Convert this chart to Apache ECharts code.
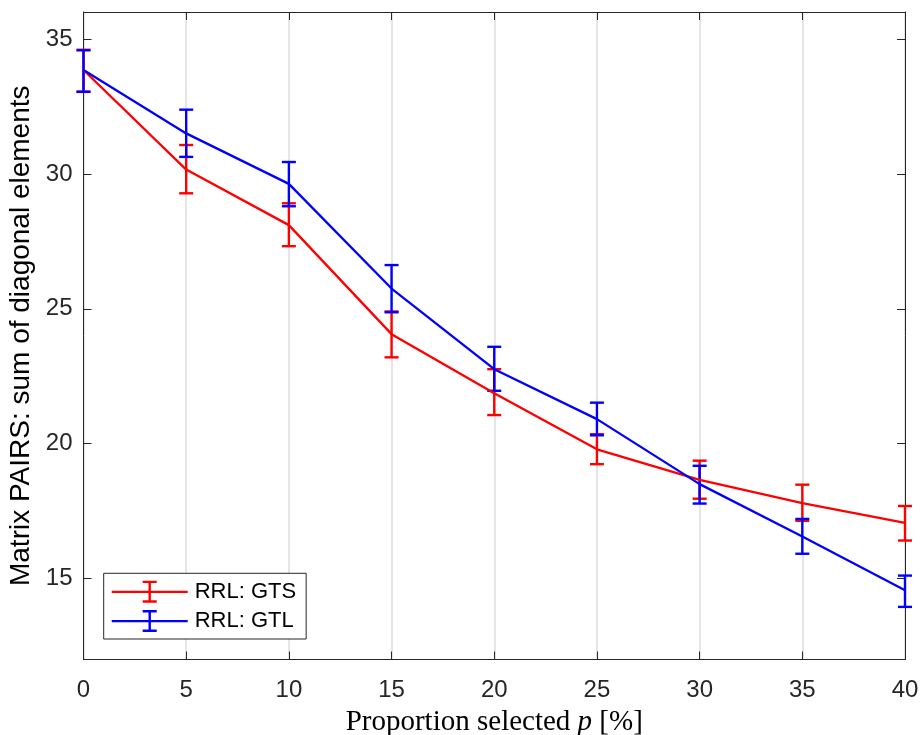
<!DOCTYPE html>
<html>
<head>
<meta charset="utf-8">
<script src="https://cdn.jsdelivr.net/npm/echarts@6/dist/echarts.min.js"></script>
<style>
html,body{margin:0;padding:0;background:#fff;}
#chart{width:922px;height:735px;}
</style>
</head>
<body>
<div id="chart"></div>
<script>
// ---- data ----
var xValues = [0, 5, 10, 15, 20, 25, 30, 35, 40];
var gtsMean = [33.85, 30.16, 28.10, 24.06, 21.87, 19.79, 18.66, 17.80, 17.06];
var gtsLow  = [33.05, 29.28, 27.32, 23.20, 21.06, 19.24, 17.96, 17.14, 16.41];
var gtsHigh = [34.60, 31.07, 28.91, 24.90, 22.76, 20.35, 19.37, 18.48, 17.69];
var gtlMean = [33.85, 31.50, 29.63, 25.75, 22.76, 20.91, 18.50, 16.56, 14.57];
var gtlLow  = [33.04, 30.63, 28.80, 24.87, 21.96, 20.31, 17.78, 15.92, 13.95];
var gtlHigh = [34.58, 32.38, 30.44, 26.62, 23.59, 21.52, 19.18, 17.21, 15.11];
var seriesNames = ['RRL: GTS', 'RRL: GTL'];
var xTicks = [0, 5, 10, 15, 20, 25, 30, 35, 40];
var yTicks = [15, 20, 25, 30, 35];

var RED = '#ff0000', BLUE = '#0000ff', AXIS = '#262626';

function pairs(xs, ys) { return xs.map(function (x, i) { return [x, ys[i]]; }); }
function triples(xs, lo, hi) { return xs.map(function (x, i) { return [x, lo[i], hi[i]]; }); }

function errRender(color) {
  return function (params, api) {
    var x = api.value(0);
    var p1 = api.coord([x, api.value(1)]);
    var p2 = api.coord([x, api.value(2)]);
    var hw = 7;
    var st = { stroke: color, lineWidth: 2.4 };
    return {
      type: 'group',
      children: [
        { type: 'line', shape: { x1: p1[0], y1: p1[1], x2: p2[0], y2: p2[1] }, style: st },
        { type: 'line', shape: { x1: p1[0] - hw, y1: p1[1], x2: p1[0] + hw, y2: p1[1] }, style: st },
        { type: 'line', shape: { x1: p2[0] - hw, y1: p2[1], x2: p2[0] + hw, y2: p2[1] }, style: st }
      ]
    };
  };
}

var legendIcon = 'path://M0 10H76V12.2H0Z M36.8 0H39.2V22H36.8Z M31 0H45V2.4H31Z M31 19.6H45V22H31Z';
var sans = "'Liberation Sans', Arial, Helvetica, sans-serif";
var serif = "'Liberation Serif', 'Times New Roman', serif";

var tickCommon = { show: true, inside: true, length: 8, lineStyle: { color: AXIS, width: 1 } };

var option = {
  backgroundColor: '#fff',
  animation: false,
  grid: { left: 83.5, right: 17, top: 12, bottom: 75.5, containLabel: false, outerBoundsMode: 'none' },
  xAxis: [{
    type: 'value', min: 0, max: 40, interval: 5,
    axisLine: { show: true, onZero: false, lineStyle: { color: AXIS, width: 1 } },
    axisTick: tickCommon,
    axisLabel: { color: AXIS, fontFamily: sans, fontSize: 24, margin: 19,
      formatter: function (v) { return xTicks.indexOf(v) >= 0 ? String(v) : ''; } },
    splitLine: { show: true, lineStyle: { color: '#dcdcdc', width: 1.5 } },
    name: 'Proportion selected {i|p} [%]',
    nameLocation: 'middle', nameGap: 48,
    nameTextStyle: { fontFamily: serif, fontSize: 29, color: '#000',
      rich: { i: { fontFamily: serif, fontStyle: 'italic', fontSize: 29, color: '#000' } } }
  }, {
    type: 'value', min: 0, max: 40, interval: 5, position: 'top',
    axisLine: { show: true, onZero: false, lineStyle: { color: AXIS, width: 1 } },
    axisTick: tickCommon, axisLabel: { show: false }, splitLine: { show: false }
  }],
  yAxis: [{
    type: 'value', min: 12, max: 36,
    axisLine: { show: true, onZero: false, lineStyle: { color: AXIS, width: 1 } },
    axisTick: Object.assign({ customValues: yTicks }, tickCommon),
    axisLabel: { color: AXIS, fontFamily: sans, fontSize: 24, margin: 11, customValues: yTicks },
    splitLine: { show: false },
    name: 'Matrix PAIRS: sum of diagonal elements',
    nameLocation: 'middle', nameGap: 45, nameRotate: 90,
    nameTextStyle: { fontFamily: sans, fontSize: 28, color: '#000' }
  }, {
    type: 'value', min: 12, max: 36, position: 'right',
    axisLine: { show: true, onZero: false, lineStyle: { color: AXIS, width: 1 } },
    axisTick: Object.assign({ customValues: yTicks }, tickCommon),
    axisLabel: { show: false, customValues: yTicks }, splitLine: { show: false }
  }],
  legend: {
    orient: 'vertical', left: 103.7, top: 573.3,
    data: seriesNames,
    icon: legendIcon, itemWidth: 76, itemHeight: 22, itemGap: 7.3,
    padding: [7.4, 10, 7, 8],
    borderColor: AXIS, borderWidth: 1, backgroundColor: '#fff',
    textStyle: { fontFamily: sans, fontSize: 22, color: '#000', padding: [0, 0, 0, 2] }
  },
  series: [
    { name: seriesNames[0], type: 'line', data: pairs(xValues, gtsMean), symbol: 'none',
      color: RED, lineStyle: { color: RED, width: 2.3 }, itemStyle: { color: RED } },
    { name: seriesNames[0] + ' err', type: 'custom', data: triples(xValues, gtsLow, gtsHigh),
      renderItem: errRender(RED), encode: { x: 0, y: [1, 2] } },
    { name: seriesNames[1], type: 'line', data: pairs(xValues, gtlMean), symbol: 'none',
      color: BLUE, lineStyle: { color: BLUE, width: 2.3 }, itemStyle: { color: BLUE } },
    { name: seriesNames[1] + ' err', type: 'custom', data: triples(xValues, gtlLow, gtlHigh),
      renderItem: errRender(BLUE), encode: { x: 0, y: [1, 2] } }
  ]
};

var chart = echarts.init(document.getElementById('chart'), null, { renderer: 'canvas' });
chart.setOption(option);
</script>
</body>
</html>
